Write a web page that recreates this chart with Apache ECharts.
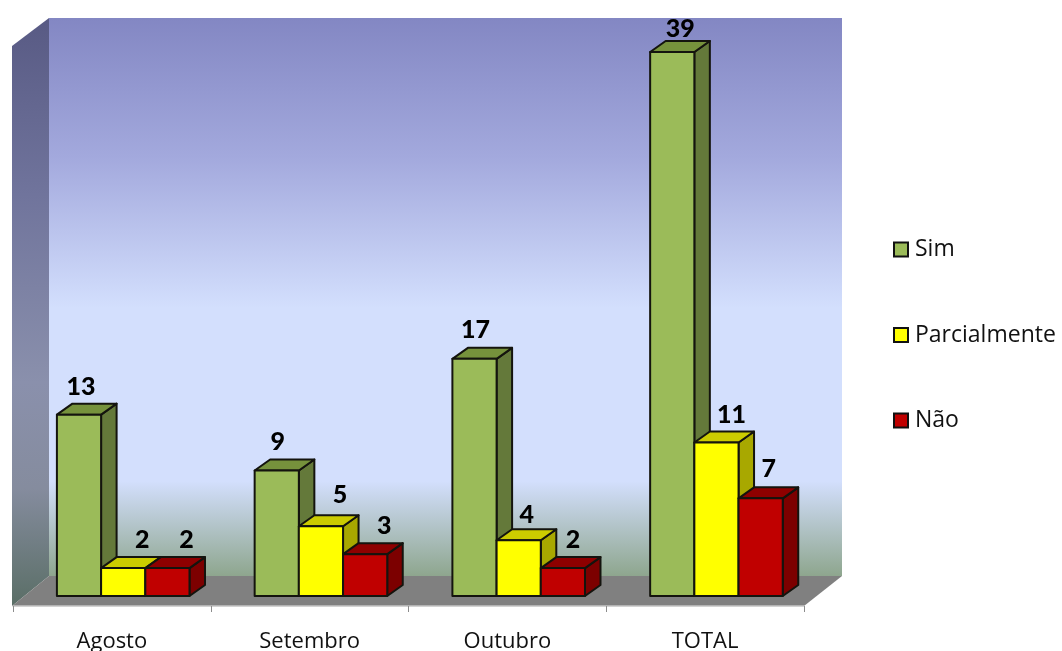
<!DOCTYPE html>
<html><head><meta charset="utf-8">
<style>html,body{margin:0;padding:0;background:#fff}#c{width:1062px;height:651px}</style>
<script src="https://cdn.jsdelivr.net/npm/echarts@6/dist/echarts.min.js"></script>
</head><body><div id="c"></div>
<script>
var categories = ['Agosto', 'Setembro', 'Outubro', 'TOTAL'];
var sim = [13, 9, 17, 39];
var parcialmente = [2, 5, 4, 11];
var nao = [2, 3, 2, 7];

// layout / style only
var labelNudge = [
  [[2,-28],[1,-29],[1,-29],[8,-23]],
  [[19,-28],[19,-31],[8,-25],[15,-28]],
  [[19,-28],[19,-28],[10,-28],[8,-29]]
];
var palettes = [
  {front:'#9BBB59', top:'#76923C', side:'#64793A'},
  {front:'#FFFF00', top:'#CCCC00', side:'#A8A800'},
  {front:'#C00000', top:'#8E0000', side:'#7C0000'}
];
var DX = 15.5, DY = 11;
var edge = '#14140e';

function makeSeries(name, values, idx) {
  var p = palettes[idx];
  return {
    name: name, type: 'custom', coordinateSystem: 'cartesian2d',
    itemStyle: {color: p.front, borderColor: '#111', borderWidth: 2},
    data: values.map(function (v, i) { return [i, v]; }),
    z: 3 + idx,
    renderItem: function (params, api) {
      var cat = api.value(0), val = api.value(1);
      var top = api.coord([cat, val]), base = api.coord([cat, 0]);
      var cw = api.size([1, 0])[0];
      var w = cw * 0.2235;
      var x = top[0] - cw / 2 + cw * 0.222 + idx * w;
      var yT = top[1], yB = base[1];
      var st = function (c) { return {fill: c, stroke: edge, lineWidth: 2, lineJoin: 'round'}; };
      var n = labelNudge[idx][cat];
      return {type: 'group', children: [
        {type:'polygon', shape:{points:[[x+w,yT],[x+w+DX,yT-DY],[x+w+DX,yB-DY],[x+w,yB]]}, style:st(p.side)},
        {type:'polygon', shape:{points:[[x,yT],[x+DX,yT-DY],[x+w+DX,yT-DY],[x+w,yT]]}, style:st(p.top)},
        {type:'rect', shape:{x:x,y:yT,width:w,height:yB-yT}, style:st(p.front)},
        {type:'text', z2:50, style:{text:String(val), x:x+w/2+n[0], y:yT+n[1], align:'center', verticalAlign:'middle',
          fill:'#000', font:'900 25px Lato'}}
      ]};
    }
  };
}

var chart = echarts.init(document.getElementById('c'), null, {renderer:'canvas'});
chart.setOption({
  animation: false,
  backgroundColor: '#fff',
  grid: {left: 13, width: 791, top: 38, height: 558, containLabel: false, outerBoundsMode: 'none'},
  xAxis: {
    type: 'category', data: categories, offset: 10,
    axisLine: {show: true, onZero: false, lineStyle: {color: '#c4c4c4', width: 1.5}},
    axisTick: {show: true, alignWithLabel: false, length: 6, lineStyle: {color: '#8c8c8c', width: 1}},
    axisLabel: {color: '#111', fontFamily: 'Open Sans', fontSize: 22, margin: 25, interval: 0}
  },
  yAxis: {type: 'value', min: 0, max: 40, interval: 10, show: false, splitLine: {show: false}},
  legend: {
    orient: 'vertical', left: 888, top: 233, itemWidth: 14, itemHeight: 14, itemGap: 62.5, icon: 'rect',
    data: ['Sim', 'Parcialmente', 'Não'],
    textStyle: {fontFamily: 'Open Sans', fontSize: 23, color: '#111', padding: [0,0,0,2]}
  },
  graphic: {elements: [
    {type:'polygon', z:0, shape:{points:[[49,18],[842,18],[842,576],[49,576]]}, style:{fill:{
      type:'linear',x:0,y:0,x2:0,y2:1,colorStops:[
        {offset:0,color:'#8387C3'},{offset:0.25,color:'#A3A9DD'},{offset:0.52,color:'#D3DFFD'},
        {offset:0.83,color:'#D3DFFD'},{offset:1,color:'#8EA68E'}]}}},
    {type:'polygon', z:0, shape:{points:[[12,46],[49,18],[49,576],[12,606]]}, style:{fill:{
      type:'linear',x:0,y:0,x2:0,y2:1,colorStops:[
        {offset:0,color:'#585A84'},{offset:0.3,color:'#70749C'},{offset:0.62,color:'#8A90AC'},
        {offset:0.8,color:'#858C9E'},{offset:1,color:'#5A6E66'}]}}},
    {type:'polygon', z:0, shape:{points:[[12,606],[49,576],[842,576],[804,606]]}, style:{fill:'#808080'}}
  ]},
  series: [makeSeries('Sim', sim, 0), makeSeries('Parcialmente', parcialmente, 1), makeSeries('Não', nao, 2)]
});
</script></body></html>
